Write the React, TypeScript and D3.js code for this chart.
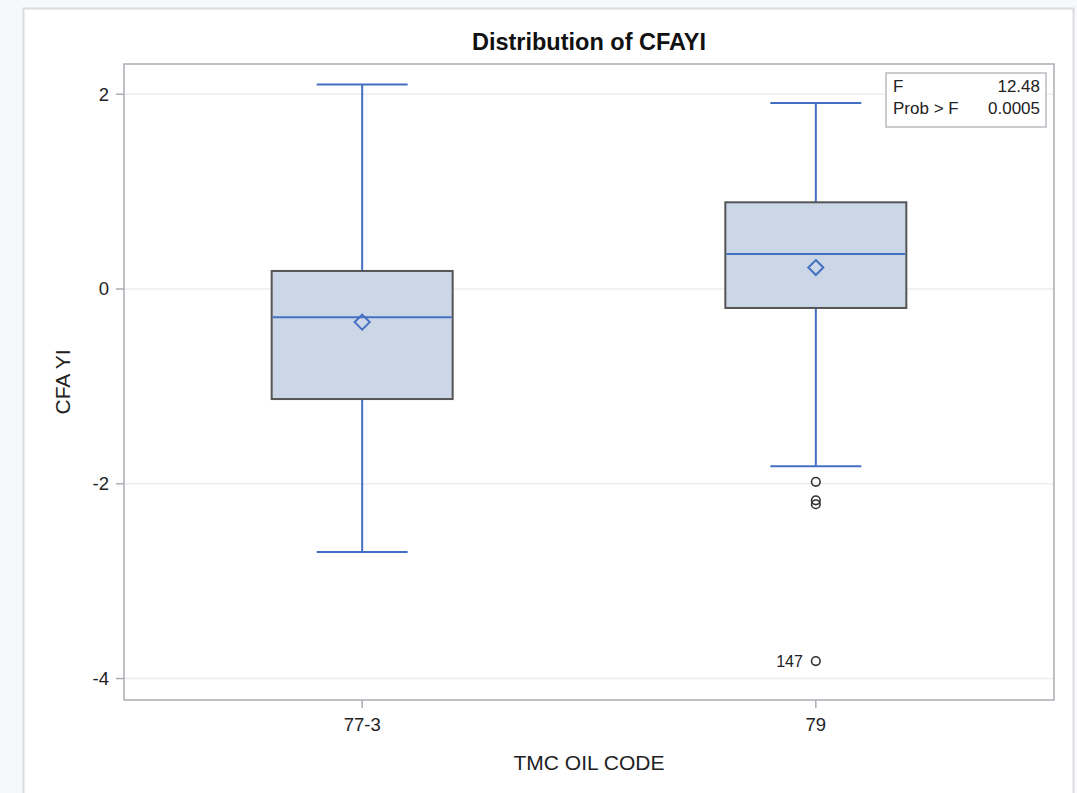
import React from "react";
import * as d3 from "d3";

const categories = ["77-3", "79"];
const whiskerLow = [-2.70, -1.82];
const q1 = [-1.13, -0.195];
const median = [-0.29, 0.36];
const mean = [-0.34, 0.22];
const q3 = [0.185, 0.89];
const whiskerHigh = [2.10, 1.91];
const outlierCat = ["79", "79", "79", "79"];
const outlierVal = [-1.98, -2.17, -2.21, -3.82];
const outlierLabel = ["", "", "", "147"];
const yTicks = [-4, -2, 0, 2];
const statNames = ["F", "Prob > F"];
const statValues = ["12.48", "0.0005"];

const W = 1077;
const H = 793;
const plot = { left: 124, right: 1054, top: 64, bottom: 700 };
const font = "'Liberation Sans', Arial, sans-serif";
const blue = "#4470c4";

export default function App() {
  const y = d3.scaleLinear().domain([-4.22, 2.31]).range([plot.bottom, plot.top]);
  const x = d3.scalePoint<string>().domain(categories).range([plot.left, plot.right]).padding(0.525);
  const boxW = 181;
  const capW = 91;

  return (
    <svg width={W} height={H} style={{ position: "absolute", left: 0, top: 0, background: "#f7f8fc" }} fontFamily={font}>
      <rect x={23.5} y={8.5} width={1050} height={800} fill="#fff" stroke="#dcdcdc" strokeWidth={2} />
      {/* gridlines */}
      {yTicks.map((t) => (
        <line key={"g" + t} x1={plot.left} x2={plot.right} y1={y(t)} y2={y(t)} stroke="#ececec" strokeWidth={1.5} />
      ))}
      {/* plot frame */}
      <rect x={plot.left} y={plot.top} width={plot.right - plot.left} height={plot.bottom - plot.top} fill="none" stroke="#a9adb3" strokeWidth={1.5} />
      {/* y ticks */}
      {yTicks.map((t) => (
        <g key={"t" + t}>
          <line x1={plot.left - 8} x2={plot.left} y1={y(t)} y2={y(t)} stroke="#a9adb3" strokeWidth={1.5} />
          <text x={plot.left - 15} y={y(t)} dy="0.35em" textAnchor="end" fontSize={18.5} fill="#222">{t}</text>
        </g>
      ))}
      {/* x ticks */}
      {categories.map((c) => (
        <g key={"x" + c}>
          <line x1={x(c)} x2={x(c)} y1={plot.bottom} y2={plot.bottom + 8} stroke="#a9adb3" strokeWidth={1.5} />
          <text x={x(c)} y={plot.bottom + 31} textAnchor="middle" fontSize={18.5} fill="#222">{c}</text>
        </g>
      ))}
      {/* boxes */}
      {categories.map((c, i) => {
        const cx = x(c)!;
        return (
          <g key={"b" + c}>
            <line x1={cx} x2={cx} y1={y(whiskerHigh[i])} y2={y(q3[i])} stroke={blue} strokeWidth={2} />
            <line x1={cx} x2={cx} y1={y(q1[i])} y2={y(whiskerLow[i])} stroke={blue} strokeWidth={2} />
            <line x1={cx - capW / 2} x2={cx + capW / 2} y1={y(whiskerHigh[i])} y2={y(whiskerHigh[i])} stroke={blue} strokeWidth={2} />
            <line x1={cx - capW / 2} x2={cx + capW / 2} y1={y(whiskerLow[i])} y2={y(whiskerLow[i])} stroke={blue} strokeWidth={2} />
            <rect x={cx - boxW / 2} y={y(q3[i])} width={boxW} height={y(q1[i]) - y(q3[i])} fill="#cbd6e6" stroke="#555" strokeWidth={2} />
            <line x1={cx - boxW / 2 + 1} x2={cx + boxW / 2 - 1} y1={y(median[i])} y2={y(median[i])} stroke={blue} strokeWidth={2} />
            <path d={`M${cx},${y(mean[i]) - 7.5} L${cx + 7.5},${y(mean[i])} L${cx},${y(mean[i]) + 7.5} L${cx - 7.5},${y(mean[i])} Z`} fill="none" stroke={blue} strokeWidth={2} />
          </g>
        );
      })}
      {/* outliers */}
      {outlierVal.map((v, i) => (
        <g key={"o" + i}>
          <circle cx={x(outlierCat[i])} cy={y(v)} r={4.3} fill="none" stroke="#333" strokeWidth={1.6} />
          {outlierLabel[i] && (
            <text x={x(outlierCat[i])! - 13} y={y(v)} dy="0.35em" textAnchor="end" fontSize={16} fill="#222">{outlierLabel[i]}</text>
          )}
        </g>
      ))}
      {/* inset stats */}
      <rect x={886} y={73} width={160} height={54} fill="#fff" stroke="#b9bcc0" strokeWidth={1.5} />
      {statNames.map((n, i) => (
        <g key={"s" + n}>
          <text x={893} y={92 + i * 22} fontSize={17} fill="#222">{n}</text>
          <text x={1040} y={92 + i * 22} textAnchor="end" fontSize={17} fill="#222">{statValues[i]}</text>
        </g>
      ))}
      {/* titles */}
      <text x={589} y={50} textAnchor="middle" fontSize={23.5} fontWeight="bold" fill="#111">Distribution of CFAYI</text>
      <text x={589} y={770} textAnchor="middle" fontSize={21} fill="#222">TMC OIL CODE</text>
      <text transform={`translate(70,${(plot.top + plot.bottom) / 2 + 0}) rotate(-90)`} textAnchor="middle" fontSize={21} fill="#222">CFA YI</text>
    </svg>
  );
}
